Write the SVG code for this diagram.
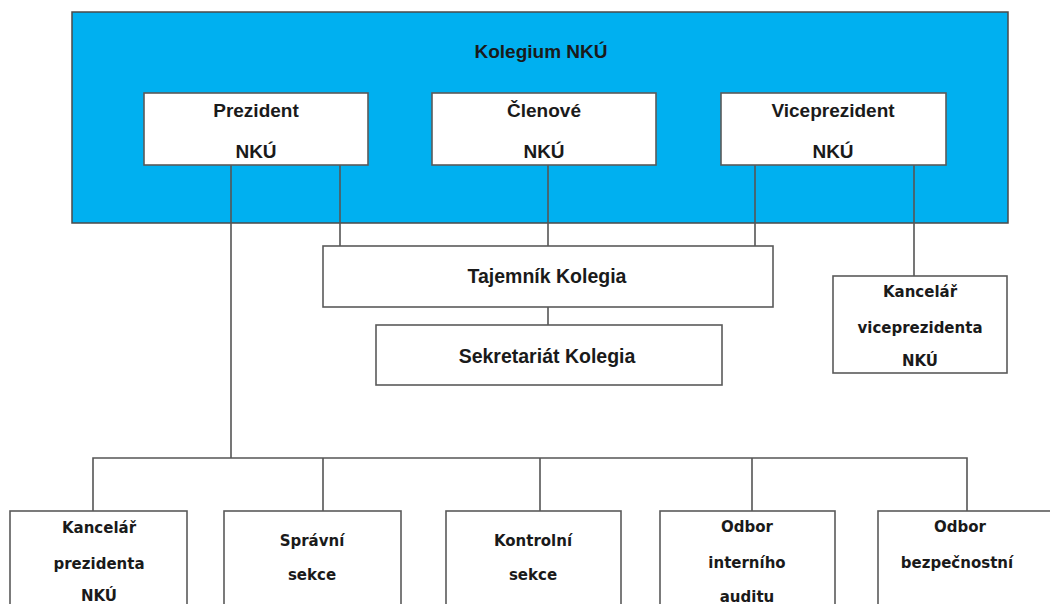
<svg xmlns="http://www.w3.org/2000/svg" width="1050" height="604" viewBox="0 0 1050 604">
<style>
.bg{fill:#ffffff}
.kol{fill:#00b0f0;stroke:#4a4a4a;stroke-width:1.5}
.box{fill:#ffffff;stroke:#5a5a5a;stroke-width:1.6}
.ln{fill:none;stroke:#555555;stroke-width:1.6}
.t1{font-family:"Liberation Sans",Arial,sans-serif;font-weight:bold;font-size:19px;fill:#1a1a1a;text-anchor:middle}
.t2{font-family:"Liberation Sans",Arial,sans-serif;font-weight:bold;font-size:19.5px;fill:#1a1a1a;text-anchor:middle}
.t3{font-family:"DejaVu Sans",Verdana,sans-serif;font-weight:bold;font-size:15px;fill:#1a1a1a;text-anchor:middle}
</style>
<rect class="bg" x="0" y="0" width="1050" height="604"/>
<g id="kolegium">
<rect class="kol" x="72" y="12" width="936" height="211"/>
<text class="t1" x="541" y="58">Kolegium NKÚ</text>
</g>
<g id="connectors">
<path class="ln" d="M231 165V458M340 165V246M548 165V246M755 165V246M914 165V276M548 307V325"/>
<path class="ln" d="M93 511V458H967V511M323 458V511M540 458V511M752 458V511"/>
</g>
<g id="prezident">
<rect class="box" x="144" y="93" width="224" height="72"/>
<text class="t1" x="256" y="117">Prezident</text>
<text class="t1" x="256" y="158">NKÚ</text>
</g>
<g id="clenove">
<rect class="box" x="432" y="93" width="224" height="72"/>
<text class="t1" x="544" y="117">Členové</text>
<text class="t1" x="544" y="158">NKÚ</text>
</g>
<g id="viceprezident">
<rect class="box" x="721" y="93" width="225" height="72"/>
<text class="t1" x="833" y="117">Viceprezident</text>
<text class="t1" x="833" y="158">NKÚ</text>
</g>
<g id="tajemnik">
<rect class="box" x="323" y="246" width="450" height="61"/>
<text class="t2" x="547" y="283">Tajemník Kolegia</text>
</g>
<g id="sekretariat">
<rect class="box" x="376" y="325" width="346" height="60"/>
<text class="t2" x="547" y="363">Sekretariát Kolegia</text>
</g>
<g id="kancelar-vice">
<rect class="box" x="833" y="276" width="174" height="97"/>
<text class="t3" x="920" y="297">Kancelář</text>
<text class="t3" x="920" y="333">viceprezidenta</text>
<text class="t3" x="920" y="366">NKÚ</text>
</g>
<g id="kancelar-prez">
<rect class="box" x="10" y="511" width="177" height="110"/>
<text class="t3" x="99" y="533">Kancelář</text>
<text class="t3" x="99" y="569">prezidenta</text>
<text class="t3" x="99" y="601">NKÚ</text>
</g>
<g id="spravni">
<rect class="box" x="224" y="511" width="177" height="110"/>
<text class="t3" x="312" y="546">Správní</text>
<text class="t3" x="312" y="580">sekce</text>
</g>
<g id="kontrolni">
<rect class="box" x="446" y="511" width="175" height="110"/>
<text class="t3" x="533" y="546">Kontrolní</text>
<text class="t3" x="533" y="580">sekce</text>
</g>
<g id="audit">
<rect class="box" x="660" y="511" width="175" height="110"/>
<text class="t3" x="747" y="532">Odbor</text>
<text class="t3" x="747" y="568">interního</text>
<text class="t3" x="747" y="602">auditu</text>
</g>
<g id="bezpecnost">
<rect class="box" x="878" y="511" width="180" height="110"/>
<text class="t3" x="960" y="532">Odbor</text>
<text class="t3" x="957" y="568">bezpečnostní</text>
</g>
</svg>
